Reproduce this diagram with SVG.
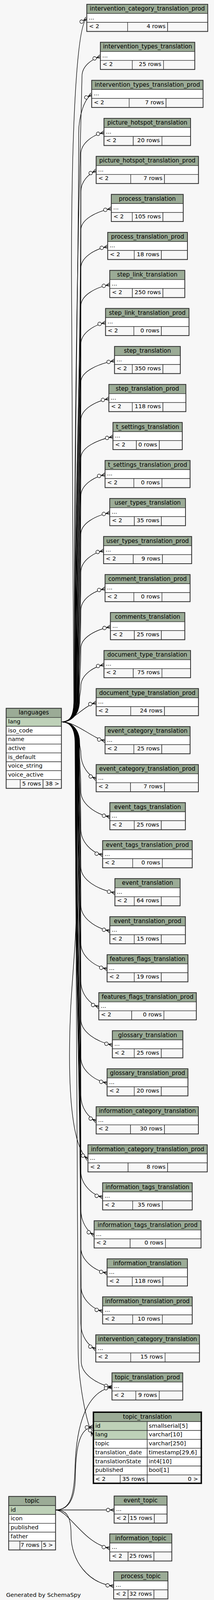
<svg xmlns="http://www.w3.org/2000/svg" width="548" height="4148" viewBox="0 0 548 4148">
<style>
.h{fill:#9bab96;stroke:#2b2b2b;stroke-width:1.3}
.k{fill:#bed1b8;stroke:#2b2b2b;stroke-width:1.3}
.w{fill:#ffffff;stroke:#2b2b2b;stroke-width:1.3}
.f{fill:#f7f7f7;stroke:#2b2b2b;stroke-width:1.3}
.o{fill:none;stroke:#333333;stroke-width:2}
text{font-family:"DejaVu Sans","Liberation Sans",sans-serif;font-size:14.67px;fill:#000000}
.t{font-size:15px;text-anchor:middle}
.r{text-anchor:end}
</style>
<defs>
<marker id="cf" markerUnits="userSpaceOnUse" markerWidth="30" markerHeight="14" viewBox="-26 -7 30 14" refX="0" refY="0" orient="auto" overflow="visible">
<path d="M-10,0 L0,-4.5 M-10,0 L0,0 M-10,0 L0,4.5" fill="none" stroke="#000" stroke-width="1.3"/>
<circle cx="-15.5" cy="0" r="4.5" fill="#ffffff" stroke="#000" stroke-width="1.3"/>
</marker>
</defs>
<rect x="0" y="0" width="548" height="4148" fill="#f7f7f7"/>

<g id="connectors" fill="none" stroke="#000" stroke-width="1.3" marker-end="url(#cf)">
<path d="M157.3,1848 C179.3,1848 189,1833 189,1793 C189,1300 183,1100 183,700 C183,300 198,62 222.3,47.5"/>
<path d="M157.3,1848 C179.3,1848 190,1833 190,1793 C190,900 204,450 210,194.8 C210,169.8 233.5,152.3 257,144.8"/>
<path d="M157.3,1848 C179.3,1848 190.9,1833 190.9,1793 C190.9,1000 201.5,700 201.5,342.1 C201.5,292.1 218.1,250.9 234.7,242.1"/>
<path d="M157.3,1848 C179.3,1848 191.7,1833 191.7,1793 C191.7,1093.8 207,1093.8 207,394.5 C207,367 236.7,345.4 266.3,339.5"/>
<path d="M157.3,1848 C179.3,1848 192.6,1833 192.6,1793 C192.6,1142.4 207,1142.4 207,491.8 C207,464.3 226.7,445.4 246.3,436.8"/>
<path d="M157.3,1848 C179.3,1848 193.4,1833 193.4,1793 C193.4,1191.1 207,1191.1 207,589.1 C207,561.6 246,541.9 285,534.1"/>
<path d="M157.3,1848 C179.3,1848 194.3,1833 194.3,1793 C194.3,1239.7 207,1239.7 207,686.4 C207,658.9 241.4,638.3 275.7,631.4"/>
<path d="M157.3,1848 C179.3,1848 195.1,1833 195.1,1793 C195.1,1288.4 207,1288.4 207,783.7 C207,756.2 244,736.1 281,728.7"/>
<path d="M157.3,1848 C179.3,1848 196,1833 196,1793 C196,1337.1 207,1337.1 207,881.1 C207,853.6 238.7,832.4 270.3,826.1"/>
<path d="M157.3,1848 C179.3,1848 196.8,1833 196.8,1793 C196.8,1385.7 207,1385.7 207,978.4 C207,950.9 250.2,932 293.3,923.4"/>
<path d="M157.3,1848 C179.3,1848 197.7,1833 197.7,1793 C197.7,1434.4 207,1434.4 207,1075.7 C207,1048.2 242.9,1027.9 278.7,1020.7"/>
<path d="M157.3,1848 C179.3,1848 198.5,1833 198.5,1793 C198.5,1483 207,1483 207,1173 C207,1145.5 248.2,1126.2 289.3,1118"/>
<path d="M157.3,1848 C179.3,1848 199.4,1833 199.4,1793 C199.4,1531.7 207,1531.7 207,1270.3 C207,1242.8 238,1221.5 269,1215.3"/>
<path d="M157.3,1848 C179.3,1848 200.2,1833 200.2,1793 C200.2,1580.4 207,1580.4 207,1367.7 C207,1340.2 244,1320.1 281,1312.7"/>
<path d="M157.3,1848 C179.3,1848 201.1,1833 201.1,1793 C201.1,1629 207,1629 207,1465 C207,1437.5 236.2,1415.8 265.3,1410"/>
<path d="M157.3,1848 C179.3,1848 201.9,1833 201.9,1793 C201.9,1677.7 207,1677.7 207,1562.3 C207,1534.8 238,1513.5 269,1507.3"/>
<path d="M157.3,1848 C179.3,1848 202.8,1833 202.8,1793 C202.8,1726.3 207,1726.3 207,1659.6 C207,1632.1 244.9,1612.2 282.7,1604.6"/>
<path d="M157.3,1848 C179.3,1848 203.6,1833 203.6,1793 C203.6,1775 207,1775 207,1756.9 C207,1729.4 236.7,1707.8 266.3,1701.9"/>
<path d="M157.3,1848 C185,1848 214,1806 246.3,1799.2"/>
<path d="M157.3,1848 C195,1848 235,1889 269,1896.6"/>
<path d="M157.3,1848 C179.3,1848 204,1863 204,1903 C204,1915.5 207,1915.5 207,1927.9 C207,1960.9 226.7,1985.3 246.3,1993.9"/>
<path d="M157.3,1848 C179.3,1848 203.3,1863 203.3,1903 C203.3,1964.1 207,1964.1 207,2025.2 C207,2058.2 244.2,2083.8 281.3,2091.2"/>
<path d="M157.3,1848 C179.3,1848 202.6,1863 202.6,1903 C202.6,2012.8 207,2012.8 207,2122.5 C207,2155.5 234.9,2182.9 262.7,2188.5"/>
<path d="M157.3,1848 C179.3,1848 201.9,1863 201.9,1903 C201.9,2061.4 207,2061.4 207,2219.8 C207,2252.8 250.7,2277.1 294.3,2285.8"/>
<path d="M157.3,1848 C179.3,1848 201.2,1863 201.2,1903 C201.2,2110.1 207,2110.1 207,2317.2 C207,2350.2 244.2,2375.8 281.3,2383.2"/>
<path d="M157.3,1848 C179.3,1848 200.5,1863 200.5,1903 C200.5,2158.8 207,2158.8 207,2414.5 C207,2447.5 240.7,2473.8 274.3,2480.5"/>
<path d="M157.3,1848 C179.3,1848 199.8,1863 199.8,1903 C199.8,2207.4 207,2207.4 207,2511.8 C207,2544.8 230,2570.1 253,2577.8"/>
<path d="M157.3,1848 C179.3,1848 199.1,1863 199.1,1903 C199.1,2256.1 207,2256.1 207,2609.1 C207,2642.1 247.4,2667 287.7,2675.1"/>
<path d="M157.3,1848 C179.3,1848 198.4,1863 198.4,1903 C198.4,2304.8 207,2304.8 207,2706.5 C207,2739.5 240.7,2765.8 274.3,2772.5"/>
<path d="M157.3,1848 C179.3,1848 197.7,1863 197.7,1903 C197.7,2353.4 207,2353.4 207,2803.8 C207,2836.8 226.7,2861.2 246.3,2869.8"/>
<path d="M157.3,1848 C179.3,1848 197,1863 197,1903 L197,2250 C197,2450 178,2520 178,2700 C178,2880 200,2950 225.3,2967.1"/>
<path d="M157.3,1848 C179.3,1848 196.3,1863 196.3,1903 C196.3,2450.7 207,2450.7 207,2998.4 C207,3031.4 234.9,3058.8 262.7,3064.4"/>
<path d="M157.3,1848 C179.3,1848 195.6,1863 195.6,1903 C195.6,2499.4 207,2499.4 207,3095.7 C207,3128.7 224,3152.9 241,3161.7"/>
<path d="M157.3,1848 C179.3,1848 194.9,1863 194.9,1903 C194.9,2548.1 207,2548.1 207,3193.1 C207,3226.1 240.7,3252.4 274.3,3259.1"/>
<path d="M157.3,1848 C179.3,1848 194.2,1863 194.2,1903 C194.2,2596.7 207,2596.7 207,3290.4 C207,3323.4 234.9,3350.8 262.7,3356.4"/>
<path d="M157.3,1848 C179.3,1848 193.5,1863 193.5,1903 C193.5,2645.4 207,2645.4 207,3387.7 C207,3420.7 226.2,3445.1 245.3,3453.7"/>
<path d="M157.3,1848 C179.3,1848 192.8,1863 192.8,1903 C192.8,2694 208,2694 208,3485 C208,3518 247.4,3543.1 286.7,3551"/>
<path d="M157.3,1848 C179.3,1848 192.1,1863 192.1,1903 C192.1,2700 200,2900 200,3450 C200,3540 222,3645 238,3675.2"/>
<path d="M142.3,3865.5 L292.3,3865.5"/>
<path d="M142.3,3865.5 C175,3865.5 215,3952 281,3963.2"/>
<path d="M142.3,3865.5 C170,3865.5 182,3880 182,3930 C182,3995 225,4053 291,4060.2"/>
<path d="M142.3,3865.5 C175,3865.5 192,3840 193,3780 C194,3700 205,3656 238,3652.3"/>
<path d="M142.3,3865.5 C180,3865.5 190,3830 192,3760 C195,3640 225,3562 286.7,3551"/>
</g>

<g id="intervention_category_translation_prod" transform="translate(222.3,11)">
<rect class="h" width="309.7" height="23.5"/><rect class="w" y="23.5" width="309.7" height="22.8"/>
<rect class="f" y="46.3" width="104.4" height="23.2"/><rect class="f" x="104.4" y="46.3" width="102.6" height="23.2"/><rect class="f" x="207" y="46.3" width="102.7" height="23.2"/>
<rect class="o" width="309.7" height="69.5"/>
<text class="t" x="154.85" y="16">intervention_category_translation_prod</text><text x="5" y="38.5">...</text><text x="5.5" y="61">&lt; 2</text><text class="r" x="201.5" y="61">4 rows</text>
</g>
<g id="intervention_types_translation" transform="translate(257,108.3)">
<rect class="h" width="241.7" height="23.5"/><rect class="w" y="23.5" width="241.7" height="22.8"/>
<rect class="f" y="46.3" width="81.7" height="23.2"/><rect class="f" x="81.7" y="46.3" width="80" height="23.2"/><rect class="f" x="161.7" y="46.3" width="80" height="23.2"/>
<rect class="o" width="241.7" height="69.5"/>
<text class="t" x="120.85" y="16">intervention_types_translation</text><text x="5" y="38.5">...</text><text x="5.5" y="61">&lt; 2</text><text class="r" x="156.2" y="61">25 rows</text>
</g>
<g id="intervention_types_translation_prod" transform="translate(234.7,205.6)">
<rect class="h" width="285.3" height="23.5"/><rect class="w" y="23.5" width="285.3" height="22.8"/>
<rect class="f" y="46.3" width="96" height="23.2"/><rect class="f" x="96" y="46.3" width="94.6" height="23.2"/><rect class="f" x="190.6" y="46.3" width="94.7" height="23.2"/>
<rect class="o" width="285.3" height="69.5"/>
<text class="t" x="142.65" y="16">intervention_types_translation_prod</text><text x="5" y="38.5">...</text><text x="5.5" y="61">&lt; 2</text><text class="r" x="185.1" y="61">7 rows</text>
</g>
<g id="picture_hotspot_translation" transform="translate(266.3,303)">
<rect class="h" width="221.7" height="23.5"/><rect class="w" y="23.5" width="221.7" height="22.8"/>
<rect class="f" y="46.3" width="75" height="23.2"/><rect class="f" x="75" y="46.3" width="73.4" height="23.2"/><rect class="f" x="148.4" y="46.3" width="73.3" height="23.2"/>
<rect class="o" width="221.7" height="69.5"/>
<text class="t" x="110.85" y="16">picture_hotspot_translation</text><text x="5" y="38.5">...</text><text x="5.5" y="61">&lt; 2</text><text class="r" x="142.9" y="61">20 rows</text>
</g>
<g id="picture_hotspot_translation_prod" transform="translate(246.3,400.3)">
<rect class="h" width="262" height="23.5"/><rect class="w" y="23.5" width="262" height="22.8"/>
<rect class="f" y="46.3" width="88.4" height="23.2"/><rect class="f" x="88.4" y="46.3" width="86.6" height="23.2"/><rect class="f" x="175" y="46.3" width="87" height="23.2"/>
<rect class="o" width="262" height="69.5"/>
<text class="t" x="131" y="16">picture_hotspot_translation_prod</text><text x="5" y="38.5">...</text><text x="5.5" y="61">&lt; 2</text><text class="r" x="169.5" y="61">7 rows</text>
</g>
<g id="process_translation" transform="translate(285,497.6)">
<rect class="h" width="184.3" height="23.5"/><rect class="w" y="23.5" width="184.3" height="22.8"/>
<rect class="f" y="46.3" width="53.7" height="23.2"/><rect class="f" x="53.7" y="46.3" width="78.6" height="23.2"/><rect class="f" x="132.3" y="46.3" width="52" height="23.2"/>
<rect class="o" width="184.3" height="69.5"/>
<text class="t" x="92.15" y="16">process_translation</text><text x="5" y="38.5">...</text><text x="5.5" y="61">&lt; 2</text><text class="r" x="126.8" y="61">105 rows</text>
</g>
<g id="process_translation_prod" transform="translate(275.7,594.9)">
<rect class="h" width="204.3" height="23.5"/><rect class="w" y="23.5" width="204.3" height="22.8"/>
<rect class="f" y="46.3" width="68" height="23.2"/><rect class="f" x="68" y="46.3" width="69.6" height="23.2"/><rect class="f" x="137.6" y="46.3" width="66.7" height="23.2"/>
<rect class="o" width="204.3" height="69.5"/>
<text class="t" x="102.15" y="16">process_translation_prod</text><text x="5" y="38.5">...</text><text x="5.5" y="61">&lt; 2</text><text class="r" x="132.1" y="61">18 rows</text>
</g>
<g id="step_link_translation" transform="translate(281,692.2)">
<rect class="h" width="192.3" height="23.5"/><rect class="w" y="23.5" width="192.3" height="22.8"/>
<rect class="f" y="46.3" width="58" height="23.2"/><rect class="f" x="58" y="46.3" width="78.3" height="23.2"/><rect class="f" x="136.3" y="46.3" width="56" height="23.2"/>
<rect class="o" width="192.3" height="69.5"/>
<text class="t" x="96.15" y="16">step_link_translation</text><text x="5" y="38.5">...</text><text x="5.5" y="61">&lt; 2</text><text class="r" x="130.8" y="61">250 rows</text>
</g>
<g id="step_link_translation_prod" transform="translate(270.3,789.6)">
<rect class="h" width="213.7" height="23.5"/><rect class="w" y="23.5" width="213.7" height="22.8"/>
<rect class="f" y="46.3" width="72.4" height="23.2"/><rect class="f" x="72.4" y="46.3" width="70.6" height="23.2"/><rect class="f" x="143" y="46.3" width="70.7" height="23.2"/>
<rect class="o" width="213.7" height="69.5"/>
<text class="t" x="106.85" y="16">step_link_translation_prod</text><text x="5" y="38.5">...</text><text x="5.5" y="61">&lt; 2</text><text class="r" x="137.5" y="61">0 rows</text>
</g>
<g id="step_translation" transform="translate(293.3,886.9)">
<rect class="h" width="168.4" height="23.5"/><rect class="w" y="23.5" width="168.4" height="22.8"/>
<rect class="f" y="46.3" width="45.4" height="23.2"/><rect class="f" x="45.4" y="46.3" width="78.6" height="23.2"/><rect class="f" x="124" y="46.3" width="44.4" height="23.2"/>
<rect class="o" width="168.4" height="69.5"/>
<text class="t" x="84.2" y="16">step_translation</text><text x="5" y="38.5">...</text><text x="5.5" y="61">&lt; 2</text><text class="r" x="118.5" y="61">350 rows</text>
</g>
<g id="step_translation_prod" transform="translate(278.7,984.2)">
<rect class="h" width="197.3" height="23.5"/><rect class="w" y="23.5" width="197.3" height="22.8"/>
<rect class="f" y="46.3" width="60" height="23.2"/><rect class="f" x="60" y="46.3" width="78.6" height="23.2"/><rect class="f" x="138.6" y="46.3" width="58.7" height="23.2"/>
<rect class="o" width="197.3" height="69.5"/>
<text class="t" x="98.65" y="16">step_translation_prod</text><text x="5" y="38.5">...</text><text x="5.5" y="61">&lt; 2</text><text class="r" x="133.1" y="61">118 rows</text>
</g>
<g id="t_settings_translation" transform="translate(289.3,1081.5)">
<rect class="h" width="177.4" height="23.5"/><rect class="w" y="23.5" width="177.4" height="22.8"/>
<rect class="f" y="46.3" width="60" height="23.2"/><rect class="f" x="60" y="46.3" width="58.7" height="23.2"/><rect class="f" x="118.7" y="46.3" width="58.7" height="23.2"/>
<rect class="o" width="177.4" height="69.5"/>
<text class="t" x="88.7" y="16">t_settings_translation</text><text x="5" y="38.5">...</text><text x="5.5" y="61">&lt; 2</text><text class="r" x="113.2" y="61">0 rows</text>
</g>
<g id="t_settings_translation_prod" transform="translate(269,1178.8)">
<rect class="h" width="217.7" height="23.5"/><rect class="w" y="23.5" width="217.7" height="22.8"/>
<rect class="f" y="46.3" width="73.7" height="23.2"/><rect class="f" x="73.7" y="46.3" width="72" height="23.2"/><rect class="f" x="145.7" y="46.3" width="72" height="23.2"/>
<rect class="o" width="217.7" height="69.5"/>
<text class="t" x="108.85" y="16">t_settings_translation_prod</text><text x="5" y="38.5">...</text><text x="5.5" y="61">&lt; 2</text><text class="r" x="140.2" y="61">0 rows</text>
</g>
<g id="user_types_translation" transform="translate(281,1276.2)">
<rect class="h" width="194" height="23.5"/><rect class="w" y="23.5" width="194" height="22.8"/>
<rect class="f" y="46.3" width="63" height="23.2"/><rect class="f" x="63" y="46.3" width="69.3" height="23.2"/><rect class="f" x="132.3" y="46.3" width="61.7" height="23.2"/>
<rect class="o" width="194" height="69.5"/>
<text class="t" x="97" y="16">user_types_translation</text><text x="5" y="38.5">...</text><text x="5.5" y="61">&lt; 2</text><text class="r" x="126.8" y="61">35 rows</text>
</g>
<g id="user_types_translation_prod" transform="translate(265.3,1373.5)">
<rect class="h" width="225.4" height="23.5"/><rect class="w" y="23.5" width="225.4" height="22.8"/>
<rect class="f" y="46.3" width="76" height="23.2"/><rect class="f" x="76" y="46.3" width="74.7" height="23.2"/><rect class="f" x="150.7" y="46.3" width="74.7" height="23.2"/>
<rect class="o" width="225.4" height="69.5"/>
<text class="t" x="112.7" y="16">user_types_translation_prod</text><text x="5" y="38.5">...</text><text x="5.5" y="61">&lt; 2</text><text class="r" x="145.2" y="61">9 rows</text>
</g>
<g id="comment_translation_prod" transform="translate(269,1470.8)">
<rect class="h" width="217.7" height="23.5"/><rect class="w" y="23.5" width="217.7" height="22.8"/>
<rect class="f" y="46.3" width="73.7" height="23.2"/><rect class="f" x="73.7" y="46.3" width="72" height="23.2"/><rect class="f" x="145.7" y="46.3" width="72" height="23.2"/>
<rect class="o" width="217.7" height="69.5"/>
<text class="t" x="108.85" y="16">comment_translation_prod</text><text x="5" y="38.5">...</text><text x="5.5" y="61">&lt; 2</text><text class="r" x="140.2" y="61">0 rows</text>
</g>
<g id="comments_translation" transform="translate(282.7,1568.1)">
<rect class="h" width="190.6" height="23.5"/><rect class="w" y="23.5" width="190.6" height="22.8"/>
<rect class="f" y="46.3" width="61.3" height="23.2"/><rect class="f" x="61.3" y="46.3" width="69.3" height="23.2"/><rect class="f" x="130.6" y="46.3" width="60" height="23.2"/>
<rect class="o" width="190.6" height="69.5"/>
<text class="t" x="95.3" y="16">comments_translation</text><text x="5" y="38.5">...</text><text x="5.5" y="61">&lt; 2</text><text class="r" x="125.1" y="61">25 rows</text>
</g>
<g id="document_type_translation" transform="translate(266.3,1665.4)">
<rect class="h" width="221.7" height="23.5"/><rect class="w" y="23.5" width="221.7" height="22.8"/>
<rect class="f" y="46.3" width="75" height="23.2"/><rect class="f" x="75" y="46.3" width="73.4" height="23.2"/><rect class="f" x="148.4" y="46.3" width="73.3" height="23.2"/>
<rect class="o" width="221.7" height="69.5"/>
<text class="t" x="110.85" y="16">document_type_translation</text><text x="5" y="38.5">...</text><text x="5.5" y="61">&lt; 2</text><text class="r" x="142.9" y="61">75 rows</text>
</g>
<g id="document_type_translation_prod" transform="translate(246.3,1762.7)">
<rect class="h" width="262" height="23.5"/><rect class="w" y="23.5" width="262" height="22.8"/>
<rect class="f" y="46.3" width="88.4" height="23.2"/><rect class="f" x="88.4" y="46.3" width="86.6" height="23.2"/><rect class="f" x="175" y="46.3" width="87" height="23.2"/>
<rect class="o" width="262" height="69.5"/>
<text class="t" x="131" y="16">document_type_translation_prod</text><text x="5" y="38.5">...</text><text x="5.5" y="61">&lt; 2</text><text class="r" x="169.5" y="61">24 rows</text>
</g>
<g id="event_category_translation" transform="translate(269,1860.1)">
<rect class="h" width="217.7" height="23.5"/><rect class="w" y="23.5" width="217.7" height="22.8"/>
<rect class="f" y="46.3" width="73.7" height="23.2"/><rect class="f" x="73.7" y="46.3" width="71.6" height="23.2"/><rect class="f" x="145.3" y="46.3" width="72.4" height="23.2"/>
<rect class="o" width="217.7" height="69.5"/>
<text class="t" x="108.85" y="16">event_category_translation</text><text x="5" y="38.5">...</text><text x="5.5" y="61">&lt; 2</text><text class="r" x="139.8" y="61">25 rows</text>
</g>
<g id="event_category_translation_prod" transform="translate(246.3,1957.4)">
<rect class="h" width="261.7" height="23.5"/><rect class="w" y="23.5" width="261.7" height="22.8"/>
<rect class="f" y="46.3" width="88" height="23.2"/><rect class="f" x="88" y="46.3" width="87" height="23.2"/><rect class="f" x="175" y="46.3" width="86.7" height="23.2"/>
<rect class="o" width="261.7" height="69.5"/>
<text class="t" x="130.85" y="16">event_category_translation_prod</text><text x="5" y="38.5">...</text><text x="5.5" y="61">&lt; 2</text><text class="r" x="169.5" y="61">7 rows</text>
</g>
<g id="event_tags_translation" transform="translate(281.3,2054.7)">
<rect class="h" width="193.4" height="23.5"/><rect class="w" y="23.5" width="193.4" height="22.8"/>
<rect class="f" y="46.3" width="62.4" height="23.2"/><rect class="f" x="62.4" y="46.3" width="69.3" height="23.2"/><rect class="f" x="131.7" y="46.3" width="61.7" height="23.2"/>
<rect class="o" width="193.4" height="69.5"/>
<text class="t" x="96.7" y="16">event_tags_translation</text><text x="5" y="38.5">...</text><text x="5.5" y="61">&lt; 2</text><text class="r" x="126.2" y="61">25 rows</text>
</g>
<g id="event_tags_translation_prod" transform="translate(262.7,2152)">
<rect class="h" width="229.6" height="23.5"/><rect class="w" y="23.5" width="229.6" height="22.8"/>
<rect class="f" y="46.3" width="77" height="23.2"/><rect class="f" x="77" y="46.3" width="76" height="23.2"/><rect class="f" x="153" y="46.3" width="76.6" height="23.2"/>
<rect class="o" width="229.6" height="69.5"/>
<text class="t" x="114.8" y="16">event_tags_translation_prod</text><text x="5" y="38.5">...</text><text x="5.5" y="61">&lt; 2</text><text class="r" x="147.5" y="61">0 rows</text>
</g>
<g id="event_translation" transform="translate(294.3,2249.3)">
<rect class="h" width="167" height="23.5"/><rect class="w" y="23.5" width="167" height="22.8"/>
<rect class="f" y="46.3" width="49.4" height="23.2"/><rect class="f" x="49.4" y="46.3" width="69.3" height="23.2"/><rect class="f" x="118.7" y="46.3" width="48.3" height="23.2"/>
<rect class="o" width="167" height="69.5"/>
<text class="t" x="83.5" y="16">event_translation</text><text x="5" y="38.5">...</text><text x="5.5" y="61">&lt; 2</text><text class="r" x="113.2" y="61">64 rows</text>
</g>
<g id="event_translation_prod" transform="translate(281.3,2346.7)">
<rect class="h" width="193.4" height="23.5"/><rect class="w" y="23.5" width="193.4" height="22.8"/>
<rect class="f" y="46.3" width="62.4" height="23.2"/><rect class="f" x="62.4" y="46.3" width="69.3" height="23.2"/><rect class="f" x="131.7" y="46.3" width="61.7" height="23.2"/>
<rect class="o" width="193.4" height="69.5"/>
<text class="t" x="96.7" y="16">event_translation_prod</text><text x="5" y="38.5">...</text><text x="5.5" y="61">&lt; 2</text><text class="r" x="126.2" y="61">15 rows</text>
</g>
<g id="features_flags_translation" transform="translate(274.3,2444)">
<rect class="h" width="207" height="23.5"/><rect class="w" y="23.5" width="207" height="22.8"/>
<rect class="f" y="46.3" width="69.4" height="23.2"/><rect class="f" x="69.4" y="46.3" width="69.3" height="23.2"/><rect class="f" x="138.7" y="46.3" width="68.3" height="23.2"/>
<rect class="o" width="207" height="69.5"/>
<text class="t" x="103.5" y="16">features_flags_translation</text><text x="5" y="38.5">...</text><text x="5.5" y="61">&lt; 2</text><text class="r" x="133.2" y="61">19 rows</text>
</g>
<g id="features_flags_translation_prod" transform="translate(253,2541.3)">
<rect class="h" width="249.7" height="23.5"/><rect class="w" y="23.5" width="249.7" height="22.8"/>
<rect class="f" y="46.3" width="84.3" height="23.2"/><rect class="f" x="84.3" y="46.3" width="82.4" height="23.2"/><rect class="f" x="166.7" y="46.3" width="83" height="23.2"/>
<rect class="o" width="249.7" height="69.5"/>
<text class="t" x="124.85" y="16">features_flags_translation_prod</text><text x="5" y="38.5">...</text><text x="5.5" y="61">&lt; 2</text><text class="r" x="161.2" y="61">0 rows</text>
</g>
<g id="glossary_translation" transform="translate(287.7,2638.6)">
<rect class="h" width="180.6" height="23.5"/><rect class="w" y="23.5" width="180.6" height="22.8"/>
<rect class="f" y="46.3" width="56" height="23.2"/><rect class="f" x="56" y="46.3" width="69.3" height="23.2"/><rect class="f" x="125.3" y="46.3" width="55.3" height="23.2"/>
<rect class="o" width="180.6" height="69.5"/>
<text class="t" x="90.3" y="16">glossary_translation</text><text x="5" y="38.5">...</text><text x="5.5" y="61">&lt; 2</text><text class="r" x="119.8" y="61">25 rows</text>
</g>
<g id="glossary_translation_prod" transform="translate(274.3,2736)">
<rect class="h" width="207" height="23.5"/><rect class="w" y="23.5" width="207" height="22.8"/>
<rect class="f" y="46.3" width="69.4" height="23.2"/><rect class="f" x="69.4" y="46.3" width="69.3" height="23.2"/><rect class="f" x="138.7" y="46.3" width="68.3" height="23.2"/>
<rect class="o" width="207" height="69.5"/>
<text class="t" x="103.5" y="16">glossary_translation_prod</text><text x="5" y="38.5">...</text><text x="5.5" y="61">&lt; 2</text><text class="r" x="133.2" y="61">20 rows</text>
</g>
<g id="information_category_translation" transform="translate(246.3,2833.3)">
<rect class="h" width="261.7" height="23.5"/><rect class="w" y="23.5" width="261.7" height="22.8"/>
<rect class="f" y="46.3" width="88" height="23.2"/><rect class="f" x="88" y="46.3" width="87" height="23.2"/><rect class="f" x="175" y="46.3" width="86.7" height="23.2"/>
<rect class="o" width="261.7" height="69.5"/>
<text class="t" x="130.85" y="16">information_category_translation</text><text x="5" y="38.5">...</text><text x="5.5" y="61">&lt; 2</text><text class="r" x="169.5" y="61">30 rows</text>
</g>
<g id="information_category_translation_prod" transform="translate(225.3,2930.6)">
<rect class="h" width="305.4" height="23.5"/><rect class="w" y="23.5" width="305.4" height="22.8"/>
<rect class="f" y="46.3" width="102.7" height="23.2"/><rect class="f" x="102.7" y="46.3" width="101.3" height="23.2"/><rect class="f" x="204" y="46.3" width="101.4" height="23.2"/>
<rect class="o" width="305.4" height="69.5"/>
<text class="t" x="152.7" y="16">information_category_translation_prod</text><text x="5" y="38.5">...</text><text x="5.5" y="61">&lt; 2</text><text class="r" x="198.5" y="61">8 rows</text>
</g>
<g id="information_tags_translation" transform="translate(262.7,3027.9)">
<rect class="h" width="229.6" height="23.5"/><rect class="w" y="23.5" width="229.6" height="22.8"/>
<rect class="f" y="46.3" width="77" height="23.2"/><rect class="f" x="77" y="46.3" width="76" height="23.2"/><rect class="f" x="153" y="46.3" width="76.6" height="23.2"/>
<rect class="o" width="229.6" height="69.5"/>
<text class="t" x="114.8" y="16">information_tags_translation</text><text x="5" y="38.5">...</text><text x="5.5" y="61">&lt; 2</text><text class="r" x="147.5" y="61">35 rows</text>
</g>
<g id="information_tags_translation_prod" transform="translate(241,3125.2)">
<rect class="h" width="273.7" height="23.5"/><rect class="w" y="23.5" width="273.7" height="22.8"/>
<rect class="f" y="46.3" width="92.3" height="23.2"/><rect class="f" x="92.3" y="46.3" width="90.4" height="23.2"/><rect class="f" x="182.7" y="46.3" width="91" height="23.2"/>
<rect class="o" width="273.7" height="69.5"/>
<text class="t" x="136.85" y="16">information_tags_translation_prod</text><text x="5" y="38.5">...</text><text x="5.5" y="61">&lt; 2</text><text class="r" x="177.2" y="61">0 rows</text>
</g>
<g id="information_translation" transform="translate(274.3,3222.6)">
<rect class="h" width="205.7" height="23.5"/><rect class="w" y="23.5" width="205.7" height="22.8"/>
<rect class="f" y="46.3" width="64.4" height="23.2"/><rect class="f" x="64.4" y="46.3" width="78.6" height="23.2"/><rect class="f" x="143" y="46.3" width="62.7" height="23.2"/>
<rect class="o" width="205.7" height="69.5"/>
<text class="t" x="102.85" y="16">information_translation</text><text x="5" y="38.5">...</text><text x="5.5" y="61">&lt; 2</text><text class="r" x="137.5" y="61">118 rows</text>
</g>
<g id="information_translation_prod" transform="translate(262.7,3319.9)">
<rect class="h" width="229.6" height="23.5"/><rect class="w" y="23.5" width="229.6" height="22.8"/>
<rect class="f" y="46.3" width="77" height="23.2"/><rect class="f" x="77" y="46.3" width="76" height="23.2"/><rect class="f" x="153" y="46.3" width="76.6" height="23.2"/>
<rect class="o" width="229.6" height="69.5"/>
<text class="t" x="114.8" y="16">information_translation_prod</text><text x="5" y="38.5">...</text><text x="5.5" y="61">&lt; 2</text><text class="r" x="147.5" y="61">10 rows</text>
</g>
<g id="intervention_category_translation" transform="translate(245.3,3417.2)">
<rect class="h" width="265.4" height="23.5"/><rect class="w" y="23.5" width="265.4" height="22.8"/>
<rect class="f" y="46.3" width="89.4" height="23.2"/><rect class="f" x="89.4" y="46.3" width="88" height="23.2"/><rect class="f" x="177.4" y="46.3" width="88" height="23.2"/>
<rect class="o" width="265.4" height="69.5"/>
<text class="t" x="132.7" y="16">intervention_category_translation</text><text x="5" y="38.5">...</text><text x="5.5" y="61">&lt; 2</text><text class="r" x="171.9" y="61">15 rows</text>
</g>
<g id="topic_translation_prod" transform="translate(286.7,3514.5)">
<rect class="h" width="181.3" height="23.5"/><rect class="w" y="23.5" width="181.3" height="22.8"/>
<rect class="f" y="46.3" width="61" height="23.2"/><rect class="f" x="61" y="46.3" width="60" height="23.2"/><rect class="f" x="121" y="46.3" width="60.3" height="23.2"/>
<rect class="o" width="181.3" height="69.5"/>
<text class="t" x="90.65" y="16">topic_translation_prod</text><text x="5" y="38.5">...</text><text x="5.5" y="61">&lt; 2</text><text class="r" x="115.5" y="61">9 rows</text>
</g>

<g id="topic_translation" transform="translate(238,3614)">
<rect class="h" width="278.7" height="25.3"/>
<rect class="k" y="25.3" width="139" height="22.75"/><rect class="w" x="139" y="25.3" width="139.7" height="22.75"/>
<rect class="k" y="48.05" width="139" height="22.75"/><rect class="w" x="139" y="48.05" width="139.7" height="22.75"/>
<rect class="w" y="70.8" width="139" height="22.75"/><rect class="w" x="139" y="70.8" width="139.7" height="22.75"/>
<rect class="w" y="93.55" width="139" height="22.75"/><rect class="w" x="139" y="93.55" width="139.7" height="22.75"/>
<rect class="w" y="116.3" width="139" height="22.75"/><rect class="w" x="139" y="116.3" width="139.7" height="22.75"/>
<rect class="w" y="139.05" width="139" height="22.75"/><rect class="w" x="139" y="139.05" width="139.7" height="22.75"/>
<rect class="f" y="161.8" width="69.7" height="22.7"/><rect class="f" x="69.7" y="161.8" width="69.3" height="22.7"/><rect class="f" x="139" y="161.8" width="139.7" height="22.7"/>
<rect x="1.5" y="1.5" width="275.7" height="181.5" fill="none" stroke="#000" stroke-width="3"/>
<text class="t" x="139.35" y="18">topic_translation</text>
<text x="6" y="40.5">id</text><text x="143" y="40.5">smallserial[5]</text>
<text x="6" y="63.25">lang</text><text x="143" y="63.25">varchar[10]</text>
<text x="6" y="86">topic</text><text x="143" y="86">varchar[250]</text>
<text x="6" y="108.75">translation_date</text><text x="143" y="108.75">timestamp[29,6]</text>
<text x="6" y="131.5">translationState</text><text x="143" y="131.5">int4[10]</text>
<text x="6" y="154.25">published</text><text x="143" y="154.25">bool[1]</text>
<text x="6" y="177">&lt; 2</text><text class="r" x="132.7" y="177">35 rows</text><text class="r" x="269.3" y="177">0 &gt;</text>
</g>

<g id="languages" transform="translate(15.7,1813.3)">
<rect class="h" width="141.6" height="23.4"/>
<rect class="k" y="23.4" width="141.6" height="22.7"/>
<rect class="w" y="46.1" width="141.6" height="22.7"/>
<rect class="w" y="68.8" width="141.6" height="22.7"/>
<rect class="w" y="91.5" width="141.6" height="22.7"/>
<rect class="w" y="114.2" width="141.6" height="22.7"/>
<rect class="w" y="136.9" width="141.6" height="22.7"/>
<rect class="w" y="159.6" width="141.6" height="22.7"/>
<rect class="f" y="182.3" width="36" height="22.7"/><rect class="f" x="36" y="182.3" width="58.6" height="22.7"/><rect class="f" x="94.6" y="182.3" width="47" height="22.7"/>
<rect class="o" width="141.6" height="205"/>
<text class="t" x="70.8" y="16">languages</text>
<text x="5" y="38.7">lang</text>
<text x="5" y="61.4">iso_code</text>
<text x="5" y="84.1">name</text>
<text x="5" y="106.8">active</text>
<text x="5" y="129.5">is_default</text>
<text x="5" y="152.2">voice_string</text>
<text x="5" y="174.9">voice_active</text>
<text class="r" x="89.3" y="197.6">5 rows</text><text class="r" x="136" y="197.6">38 &gt;</text>
</g>

<g id="topic" transform="translate(22.3,3830.8)">
<rect class="h" width="120" height="23.5"/>
<rect class="k" y="23.5" width="120" height="22.7"/>
<rect class="w" y="46.2" width="120" height="22.7"/>
<rect class="w" y="68.9" width="120" height="22.7"/>
<rect class="w" y="91.6" width="120" height="22.7"/>
<rect class="f" y="114.3" width="28.7" height="22.7"/><rect class="f" x="28.7" y="114.3" width="55.7" height="22.7"/><rect class="f" x="84.4" y="114.3" width="35.6" height="22.7"/>
<rect class="o" width="120" height="137"/>
<text class="t" x="60" y="16">topic</text>
<text x="5" y="38.8">id</text>
<text x="5" y="61.5">icon</text>
<text x="5" y="84.2">published</text>
<text x="5" y="106.9">father</text>
<text class="r" x="78.4" y="129.6">7 rows</text><text class="r" x="113.6" y="129.6">5 &gt;</text>
</g>

<g id="event_topic" transform="translate(292.3,3829.8)">
<rect class="h" width="135.4" height="23.5"/><rect class="w" y="23.5" width="135.4" height="22.8"/>
<rect class="f" y="46.3" width="37" height="23.2"/><rect class="f" x="37" y="46.3" width="66" height="23.2"/><rect class="f" x="103" y="46.3" width="32.4" height="23.2"/>
<rect class="o" width="135.4" height="69.5"/>
<text class="t" x="67.7" y="16">event_topic</text><text x="5" y="38.5">...</text><text x="5.5" y="61">&lt; 2</text><text class="r" x="97.5" y="61">15 rows</text>
</g>
<g id="information_topic" transform="translate(281,3926.7)">
<rect class="h" width="159" height="23.5"/><rect class="w" y="23.5" width="159" height="22.8"/>
<rect class="f" y="46.3" width="47" height="23.2"/><rect class="f" x="47" y="46.3" width="66.3" height="23.2"/><rect class="f" x="113.3" y="46.3" width="45.7" height="23.2"/>
<rect class="o" width="159" height="69.5"/>
<text class="t" x="79.5" y="16">information_topic</text><text x="5" y="38.5">...</text><text x="5.5" y="61">&lt; 2</text><text class="r" x="107.8" y="61">25 rows</text>
</g>
<g id="process_topic" transform="translate(291,4023.7)">
<rect class="h" width="139" height="23.5"/><rect class="w" y="23.5" width="139" height="22.8"/>
<rect class="f" y="46.3" width="37" height="23.2"/><rect class="f" x="37" y="46.3" width="66.3" height="23.2"/><rect class="f" x="103.3" y="46.3" width="35.7" height="23.2"/>
<rect class="o" width="139" height="69.5"/>
<text class="t" x="69.5" y="16">process_topic</text><text x="5" y="38.5">...</text><text x="5.5" y="61">&lt; 2</text><text class="r" x="97.8" y="61">32 rows</text>
</g>

<text x="15.7" y="4088">Generated by SchemaSpy</text>
</svg>
